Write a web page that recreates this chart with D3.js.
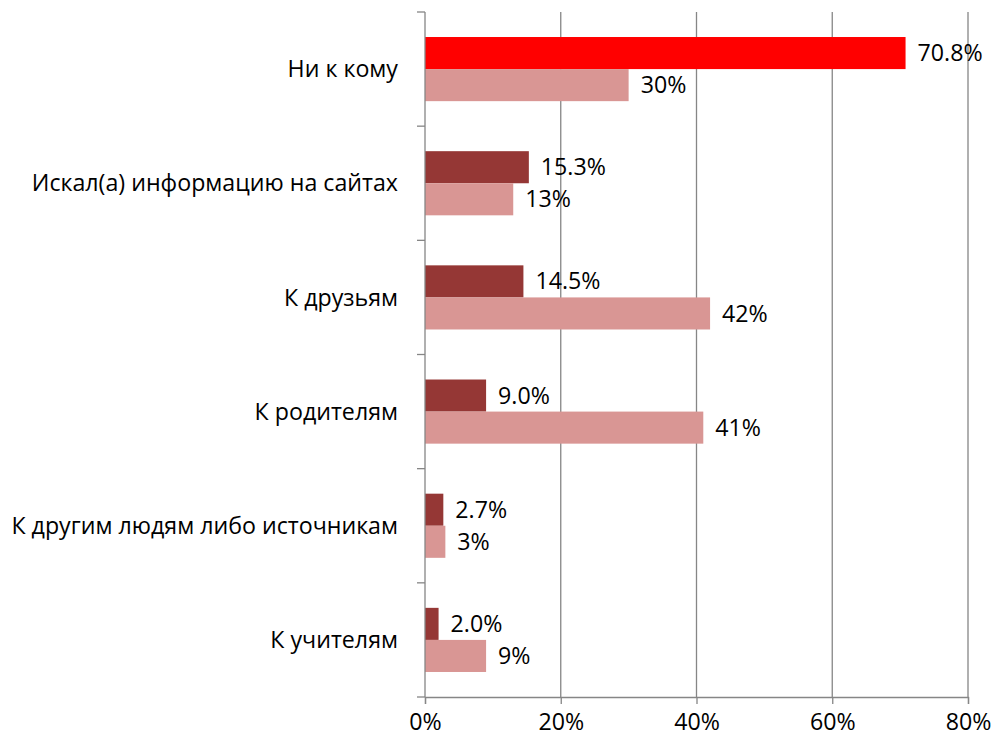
<!DOCTYPE html>
<html>
<head>
<meta charset="utf-8">
<script src="https://cdn.jsdelivr.net/npm/d3@7"></script>
<style>
  body { margin: 0; background: #fff; }
  text { font-family: "Open Sans", sans-serif; fill: #000; }
</style>
</head>
<body>
<div id="chart"></div>
<script>
// Chart data
const categories = [
    "Ни к кому",
    "Искал(а) информацию на сайтах",
    "К друзьям",
    "К родителям",
    "К другим людям либо источникам",
    "К учителям"
];
const seriesA = [70.8, 15.3, 14.5, 9.0, 2.7, 2.0];   // dark bars
const seriesB = [30, 13, 42, 41, 3, 9];               // light bars
const xTicks = [0, 20, 40, 60, 80];

const margin = {top: 12, right: 24, bottom: 47, left: 425};
const width = 992 - margin.left - margin.right;
const height = 744 - margin.top - margin.bottom;
const fontSize = "23.2px";

const svg = d3.select("#chart")
    .append("svg")
    .attr("width", 992)
    .attr("height", 744)
    .append("g")
    .attr("transform", `translate(${margin.left},${margin.top})`);

const x = d3.scaleLinear().domain([0, 80]).range([0, 543]);
const y = d3.scaleBand().domain(categories).range([0, height]);
const inner = d3.scaleBand().domain(["a", "b"]).range([0, y.bandwidth()]).paddingInner(0).paddingOuter(0.78);

// gridlines
svg.append("g")
    .selectAll("line")
    .data(xTicks.slice(1))
    .enter()
    .append("line")
    .attr("x1", d => x(d)).attr("x2", d => x(d))
    .attr("y1", 0).attr("y2", height)
    .attr("stroke", "#868686")
    .attr("stroke-width", 1.3);

// bars
const groups = svg.append("g")
    .selectAll("g")
    .data(categories)
    .enter()
    .append("g")
    .attr("transform", d => `translate(0,${y(d)})`);

groups.append("rect")
    .attr("x", 0)
    .attr("y", inner("a"))
    .attr("height", inner.bandwidth())
    .attr("width", (d, i) => x(seriesA[i]))
    .attr("fill", (d, i) => i === 0 ? "#ff0000" : "#953735");

groups.append("rect")
    .attr("x", 0)
    .attr("y", inner("b"))
    .attr("height", inner.bandwidth())
    .attr("width", (d, i) => x(seriesB[i]))
    .attr("fill", "#d99694");

// value labels
groups.append("text")
    .attr("x", (d, i) => x(seriesA[i]) + 12)
    .attr("y", inner("a") + inner.bandwidth() / 2)
    .attr("dy", "0.35em")
    .style("font-size", fontSize)
    .text((d, i) => seriesA[i].toFixed(1) + "%");

groups.append("text")
    .attr("x", (d, i) => x(seriesB[i]) + 12)
    .attr("y", inner("b") + inner.bandwidth() / 2)
    .attr("dy", "0.35em")
    .style("font-size", fontSize)
    .text((d, i) => seriesB[i] + "%");

// category labels
groups.append("text")
    .attr("x", -27)
    .attr("y", y.bandwidth() / 2)
    .attr("dy", "0.35em")
    .attr("text-anchor", "end")
    .style("font-size", fontSize)
    .text(d => d);

// left axis with ticks at band boundaries
const bounds = categories.map(d => y(d)).concat([height]);
svg.append("line")
    .attr("x1", 0).attr("x2", 0).attr("y1", 0).attr("y2", height)
    .attr("stroke", "#868686").attr("stroke-width", 1.3);
svg.append("g")
    .selectAll("line")
    .data(bounds)
    .enter()
    .append("line")
    .attr("x1", -8).attr("x2", 0)
    .attr("y1", d => d).attr("y2", d => d)
    .attr("stroke", "#868686").attr("stroke-width", 1.3);

// bottom axis
const xAxis = svg.append("g")
    .attr("transform", `translate(0,${height})`)
    .call(d3.axisBottom(x).tickValues(xTicks).tickSize(7).tickFormat(d => d + "%"));
xAxis.select(".domain").attr("stroke", "#868686").attr("stroke-width", 1.3);
xAxis.selectAll(".tick line").attr("stroke", "#868686").attr("stroke-width", 1.3);
xAxis.selectAll(".tick text")
    .attr("y", 17)
    .style("font-size", fontSize)
    .style("font-family", "Open Sans, sans-serif")
    .attr("fill", "#000");
</script>
</body>
</html>
